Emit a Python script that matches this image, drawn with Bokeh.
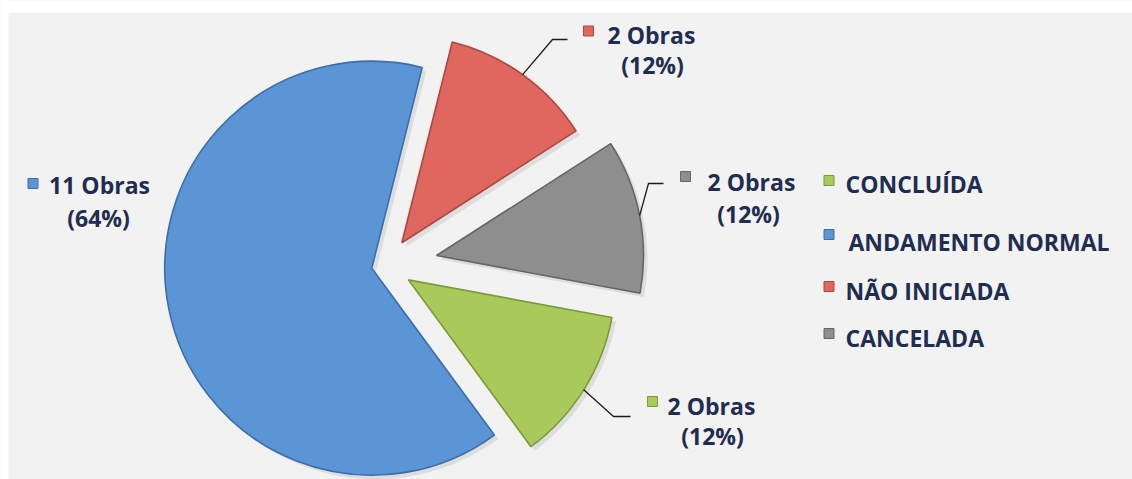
import math
from bokeh.plotting import figure
from bokeh.models import Range1d
from bokeh.embed import file_html
from bokeh.resources import INLINE
from bokeh.core.properties import value

# ---------------- data ----------------
categories = ["CONCLUÍDA", "ANDAMENTO NORMAL", "NÃO INICIADA", "CANCELADA"]
obras = [2, 11, 2, 2]
percent = [12, 64, 12, 12]
count_labels = [f"{n} Obras" for n in obras]
pct_labels = [f"({v}%)" for v in percent]

# ---------------- styles / layout ----------------
colors = ["#a9c95b", "#5b95d5", "#e0675f", "#8e8e8e"]
edge_colors = ["#7d9a38", "#3c6dab", "#b0463f", "#656565"]
text_color = "#1f2d50"
FONT = value("Open Sans")
FSIZE = "23px"

PAGE_W, PAGE_H = 1132, 479
def Y(py):
    return PAGE_H - py

center = (385.0, 265.0)     # page px
radius = 207.0
start_deg = 100.5           # clockwise from 12 o'clock
explode = [27, 14, 28, 52]

# label layout in page px: square centre, line1 centre, line2 centre, leader elbow/end
label_layout = [
    dict(sq=(652, 401), l1=(711, 405), l2=(712, 435), leader=[(613, 416), (630, 416)]),
    dict(sq=(32.5, 183), l1=(99, 184), l2=(98, 217), leader=None),
    dict(sq=(588, 30.5), l1=(651, 34), l2=(652, 64), leader=[(552, 39), (567, 39)]),
    dict(sq=(685, 176), l1=(751, 181), l2=(748, 213), leader=[(648, 183), (663, 183)]),
]
legend_x_sq = 828.5
legend_x_txt = [845, 848, 845, 845]
legend_y_txt = [183.5, 241, 290, 337.5]
legend_y_sq = [180, 234, 286, 333]

p = figure(width=PAGE_W, height=PAGE_H, output_backend="svg", toolbar_location=None,
           x_range=Range1d(0, PAGE_W), y_range=Range1d(0, PAGE_H),
           min_border=0)
p.axis.visible = False
p.grid.visible = False
p.outline_line_color = None
p.background_fill_color = "#f2f2f2"
p.border_fill_color = "white"

# white strip at the very top (panel starts a bit lower)
p.quad(left=0, right=PAGE_W, top=Y(0), bottom=Y(12), fill_color="white", line_color=None)
p.quad(left=0, right=8, top=Y(0), bottom=Y(PAGE_H), fill_color="white", line_color=None)

total = float(sum(percent))
theta = start_deg
slices = []
for i, v in enumerate(percent):
    span = 360.0 * v / total
    t1, t2 = theta, theta + span
    theta = t2
    mid = math.radians((t1 + t2) / 2)
    ax = center[0] + explode[i] * math.sin(mid)
    ay = center[1] - explode[i] * math.cos(mid)
    slices.append((t1, t2, mid, ax, ay))

# shadows
for i, (t1, t2, mid, ax, ay) in enumerate(slices):
    p.wedge(x=ax + 4, y=Y(ay + 4), radius=radius,
            start_angle=math.radians(90 - t2), end_angle=math.radians(90 - t1),
            direction="anticlock", fill_color="#d4d4d4", fill_alpha=0.7, line_color=None)

# slices
for i, (t1, t2, mid, ax, ay) in enumerate(slices):
    p.wedge(x=ax, y=Y(ay), radius=radius,
            start_angle=math.radians(90 - t2), end_angle=math.radians(90 - t1),
            direction="anticlock", fill_color=colors[i],
            line_color=edge_colors[i], line_width=1.6)

# data labels
for i, (t1, t2, mid, ax, ay) in enumerate(slices):
    lay = label_layout[i]
    if lay["leader"]:
        sx = ax + radius * math.sin(mid)
        sy = ay - radius * math.cos(mid)
        xs = [sx] + [pt[0] for pt in lay["leader"]]
        ys = [Y(sy)] + [Y(pt[1]) for pt in lay["leader"]]
        p.line(xs, ys, line_color="#1a1a1a", line_width=1.3)
    p.rect(x=lay["sq"][0], y=Y(lay["sq"][1]), width=10, height=10,
           fill_color=colors[i], line_color=edge_colors[i], line_width=1)
    p.text(x=[lay["l1"][0]], y=[Y(lay["l1"][1])], text=[count_labels[i]],
           text_font=FONT, text_font_style="bold", text_font_size=FSIZE,
           text_color=text_color, text_align="center", text_baseline="middle")
    p.text(x=[lay["l2"][0]], y=[Y(lay["l2"][1])], text=[pct_labels[i]],
           text_font=FONT, text_font_style="bold", text_font_size=FSIZE,
           text_color=text_color, text_align="center", text_baseline="middle")

# legend
for i, cat in enumerate(categories):
    p.rect(x=legend_x_sq, y=Y(legend_y_sq[i]), width=10, height=10,
           fill_color=colors[i], line_color=edge_colors[i], line_width=1)
    p.text(x=[legend_x_txt[i]], y=[Y(legend_y_txt[i])], text=[cat],
           text_font=FONT, text_font_style="bold", text_font_size=FSIZE,
           text_color=text_color, text_align="left", text_baseline="middle")

open("out.html", "w").write(file_html(p, INLINE))
